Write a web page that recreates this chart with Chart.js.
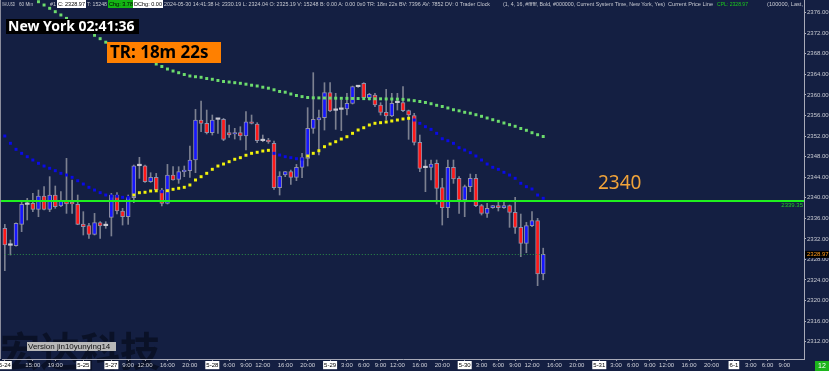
<!DOCTYPE html>
<html>
<head>
<meta charset="utf-8">
<title>XAUUSD 60 Min</title>
<script src="https://cdn.jsdelivr.net/npm/chart.js@4.4.1/dist/chart.umd.min.js"></script>
<style>
    html, body { margin: 0; padding: 0; background: #141f42; }
    #wrap { width: 829px; height: 371px; }
</style>
</head>
<body>
<div id="wrap"><canvas id="grafico" width="829" height="371"></canvas></div>
<script>
// Velas de 60 min (5-24 10:00 -> 5-30 14:00)
const aperturas = [
    2334.05, 2330.80, 2330.67, 2334.82, 2338.70, 2338.91, 2337.74, 2340.33, 2337.74, 2340.53,
    2338.39, 2339.43, 2339.10, 2338.71, 2334.89, 2334.57, 2332.88, 2335.15, 2334.57, 2336.18,
    2340.53, 2337.42, 2336.31, 2340.01, 2346.23, 2346.23, 2343.12, 2343.97, 2341.50, 2338.91,
    2344.42, 2343.58, 2345.07, 2345.26, 2347.34, 2355.12, 2354.47, 2352.66, 2355.25, 2355.25,
    2352.66, 2352.40, 2352.66, 2352.01, 2354.79, 2354.34, 2351.10, 2351.23, 2350.58, 2341.96,
    2344.42, 2345.07, 2343.97, 2345.91, 2347.66, 2353.50, 2355.12, 2355.57, 2360.44, 2357.06,
    2357.19, 2357.26, 2358.36, 2361.60, 2362.25, 2359.46, 2359.98, 2358.04, 2356.61, 2355.90,
    2358.49, 2358.49, 2356.93, 2355.96, 2350.77, 2345.85, 2345.91, 2346.69, 2341.96, 2338.07,
    2345.91, 2343.77, 2339.56, 2342.15, 2343.77, 2338.45, 2336.96, 2338.07, 2338.45, 2338.07,
    2338.45, 2337.16, 2334.24, 2331.13, 2334.57, 2335.54, 2325.19
];
const maximos = [
    2334.82, 2331.78, 2335.10, 2339.23, 2339.88, 2340.85, 2341.50, 2342.15, 2344.10, 2342.28,
    2341.18, 2347.66, 2343.45, 2340.53, 2337.29, 2335.02, 2336.96, 2335.34, 2335.34, 2340.85,
    2340.98, 2337.94, 2340.53, 2346.36, 2347.86, 2346.36, 2344.87, 2344.74, 2341.83, 2346.49,
    2346.04, 2346.04, 2346.17, 2350.06, 2357.19, 2358.82, 2357.06, 2356.09, 2355.30, 2355.44,
    2354.15, 2353.50, 2353.82, 2356.74, 2356.09, 2354.60, 2352.20, 2351.55, 2351.03, 2345.07,
    2345.10, 2345.39, 2346.49, 2348.64, 2357.52, 2364.33, 2357.06, 2362.38, 2362.38, 2360.31,
    2359.01, 2360.31, 2361.73, 2361.73, 2362.38, 2360.31, 2360.31, 2358.49, 2361.08, 2360.31,
    2360.31, 2361.60, 2357.06, 2356.42, 2352.20, 2347.34, 2347.34, 2347.34, 2343.77, 2347.34,
    2347.34, 2344.10, 2342.47, 2344.61, 2344.55, 2338.71, 2338.91, 2338.50, 2339.23, 2339.23,
    2338.58, 2340.08, 2336.83, 2335.21, 2337.29, 2335.99, 2330.19
];
const minimos = [
    2325.81, 2328.86, 2330.60, 2333.40, 2335.67, 2337.29, 2336.31, 2337.61, 2337.29, 2337.94,
    2338.26, 2336.96, 2336.96, 2334.75, 2332.75, 2332.10, 2332.75, 2332.10, 2334.05, 2332.56,
    2336.83, 2334.69, 2334.82, 2339.04, 2343.77, 2342.99, 2342.99, 2341.18, 2338.39, 2338.78,
    2343.40, 2342.80, 2344.10, 2343.97, 2344.87, 2352.85, 2352.40, 2352.20, 2352.53, 2351.10,
    2351.75, 2351.42, 2351.23, 2349.28, 2354.34, 2350.71, 2350.90, 2350.58, 2341.63, 2340.53,
    2344.10, 2342.60, 2343.32, 2343.90, 2346.17, 2352.53, 2348.31, 2353.17, 2356.74, 2353.30,
    2353.04, 2356.09, 2358.23, 2361.47, 2359.33, 2359.01, 2357.71, 2356.09, 2355.12, 2355.77,
    2357.06, 2356.74, 2351.36, 2350.26, 2345.07, 2341.18, 2343.45, 2338.78, 2334.69, 2336.12,
    2342.80, 2336.96, 2336.31, 2341.18, 2338.26, 2336.64, 2336.18, 2337.94, 2337.42, 2337.94,
    2334.24, 2333.07, 2328.53, 2329.31, 2334.37, 2322.89, 2324.04
];
const cierres = [
    2330.80, 2330.75, 2335.02, 2338.71, 2338.80, 2337.74, 2340.33, 2337.74, 2340.53, 2338.26,
    2339.43, 2338.78, 2338.78, 2334.82, 2334.37, 2332.88, 2335.15, 2334.50, 2334.57, 2340.53,
    2337.42, 2336.31, 2340.01, 2346.23, 2346.23, 2343.12, 2343.97, 2341.50, 2338.91, 2344.42,
    2343.45, 2345.07, 2345.39, 2347.34, 2355.12, 2354.47, 2352.66, 2355.12, 2355.25, 2351.36,
    2352.20, 2352.66, 2352.01, 2354.79, 2354.47, 2351.10, 2351.10, 2350.90, 2341.96, 2344.23,
    2345.07, 2343.97, 2345.91, 2347.79, 2353.50, 2355.25, 2355.57, 2360.44, 2356.87, 2357.00,
    2357.32, 2358.36, 2361.60, 2361.60, 2359.46, 2360.11, 2358.04, 2356.61, 2355.90, 2358.36,
    2358.49, 2356.93, 2356.09, 2350.77, 2345.72, 2345.85, 2346.56, 2341.83, 2338.07, 2345.91,
    2343.64, 2339.56, 2342.15, 2343.77, 2338.45, 2336.96, 2337.94, 2338.45, 2338.07, 2338.45,
    2337.16, 2334.24, 2331.13, 2334.57, 2335.54, 2325.19, 2328.97
];

// Media rapida (azul bajando / amarilla subiendo)
const mediaRapida = [
    2352.01, 2350.59, 2349.42, 2348.64, 2347.98, 2347.34, 2346.70, 2346.17, 2345.73, 2345.26,
    2344.75, 2344.42, 2343.97, 2343.31, 2342.67, 2342.03, 2341.50, 2340.98, 2340.53, 2340.34,
    2340.30, 2340.08, 2340.06, 2340.53, 2340.98, 2341.06, 2341.31, 2341.35, 2341.18, 2341.37,
    2341.64, 2341.84, 2342.03, 2342.48, 2343.45, 2344.09, 2344.75, 2345.53, 2346.17, 2346.56,
    2347.01, 2347.48, 2347.79, 2348.26, 2348.64, 2348.84, 2349.09, 2349.22, 2348.64, 2348.31,
    2347.98, 2347.79, 2347.59, 2347.53, 2348.12, 2348.64, 2349.15, 2349.93, 2350.45, 2350.90,
    2351.42, 2351.87, 2352.53, 2353.18, 2353.62, 2354.15, 2354.48, 2354.60, 2354.73, 2354.93,
    2355.12, 2355.32, 2355.45, 2355.12, 2354.48, 2353.82, 2353.31, 2352.53, 2351.48, 2351.09,
    2350.59, 2349.73, 2349.28, 2348.76, 2348.12, 2347.34, 2346.56, 2345.92, 2345.53, 2344.95,
    2344.42, 2343.78, 2342.81, 2342.15, 2341.70, 2340.53, 2339.89
];
// Media lenta (verde)
const mediaLenta = [
    2381.99, 2381.34, 2380.70, 2380.06, 2379.42, 2378.78, 2378.13, 2377.49, 2376.85, 2376.19,
    2375.55, 2374.89, 2374.22, 2373.56, 2372.90, 2372.26, 2371.60, 2370.94, 2370.26, 2369.79,
    2369.32, 2368.86, 2368.39, 2367.92, 2367.45, 2366.99, 2366.50, 2366.01, 2365.53, 2365.04,
    2364.65, 2364.32, 2363.97, 2363.68, 2363.54, 2363.43, 2363.19, 2363.04, 2362.81, 2362.61,
    2362.51, 2362.38, 2362.26, 2362.09, 2361.89, 2361.74, 2361.50, 2361.31, 2361.00, 2360.67,
    2360.53, 2360.18, 2359.89, 2359.67, 2359.50, 2359.44, 2359.42, 2359.40, 2359.38, 2359.36,
    2359.34, 2359.33, 2359.31, 2359.30, 2359.28, 2359.27, 2359.25, 2359.24, 2359.22, 2359.20,
    2359.18, 2359.14, 2359.01, 2358.88, 2358.72, 2358.53, 2358.29, 2357.98, 2357.75, 2357.46,
    2357.12, 2356.91, 2356.62, 2356.44, 2356.15, 2355.84, 2355.51, 2355.18, 2354.87, 2354.54,
    2354.21, 2353.90, 2353.47, 2353.12, 2352.65, 2352.26, 2351.91
];

// Eje X: huecos horarios (incluye espacio futuro) y etiquetas
const NUM_HUECOS = 143;
const ticksXIdx = [0, 5, 9, 14, 19, 22, 25, 29, 33, 37, 40, 43, 46, 50, 54, 58, 61, 64, 67, 70,
    74, 78, 82, 85, 88, 91, 94, 98, 102, 106, 109, 112, 115, 118, 122, 126, 130, 133, 136, 139];
const ticksXTexto = ['5-24', '15:00', '19:00', '5-25', '5-27', '9:00', '12:00', '16:00', '20:00', '5-28',
    '6:00', '9:00', '12:00', '16:00', '20:00', '5-29', '3:00', '6:00', '9:00', '12:00',
    '16:00', '20:00', '5-30', '3:00', '6:00', '9:00', '12:00', '16:00', '20:00', '5-31',
    '3:00', '6:00', '9:00', '12:00', '16:00', '20:00', '6-1', '3:00', '6:00', '9:00'];

// Eje Y
const ticksY = [2312, 2316, 2320, 2324, 2328, 2332, 2336, 2340, 2344, 2348, 2352, 2356, 2360, 2364, 2368, 2372, 2376];
const Y_MIN = 2308.63;
const Y_MAX = 2378.465;
const nivelSoporte = 2339.35;
const precioActual = 2328.97;

const Grafico = {
    colores: {
        fondo: '#141f42',
        alza: '#1616ff',
        baja: '#ff1818',
        doji: '#c8c8d2',
        borde: '#9090aa',
        mecha: '#7c8090',
        azul: '#0a0ae8',
        amarillo: '#f2f20c',
        verde: '#6ddc6d',
        texto: '#c8cad2',
    },

    /**
     * Arma las etiquetas de categoria
     */
    etiquetas: function() {
        const out = [];
        for (let k = 0; k < NUM_HUECOS; k++) {
            const pos = ticksXIdx.indexOf(k);
            out.push(pos >= 0 ? ticksXTexto[pos] : '');
        }
        return out;
    },

    esDoji: function(i) {
        return Math.abs(cierres[i] - aperturas[i]) < 0.15;
    },

    colorCuerpo: function(i) {
        if (this.esDoji(i)) return this.colores.doji;
        return cierres[i] > aperturas[i] ? this.colores.alza : this.colores.baja;
    },

    /**
     * Fondo y marca de agua (debajo de todo)
     */
    pluginFondo: {
        id: 'fondo',
        beforeDraw: function(chart) {
            const ctx = chart.ctx;
            ctx.save();
            ctx.fillStyle = Grafico.colores.fondo;
            ctx.fillRect(0, 0, chart.width, chart.height);
            ctx.font = 'bold 40px "Noto Sans CJK SC"';
            ctx.fillStyle = 'rgba(4, 8, 22, 0.6)';
            ctx.textBaseline = 'top';
            ctx.fillText('宏达科技', 0, 331);
            ctx.restore();
        },
    },

    /**
     * Linea de soporte y linea de precio actual
     */
    pluginLineas: {
        id: 'lineas',
        afterDatasetsDraw: function(chart) {
            const ctx = chart.ctx;
            const area = chart.chartArea;
            const y = chart.scales.y;
            const x = chart.scales.x;
            ctx.save();
            // Precio actual punteado
            const yp = Math.round(y.getPixelForValue(precioActual)) + 0.5;
            ctx.strokeStyle = '#2b8c48';
            ctx.lineWidth = 1;
            ctx.setLineDash([1, 2]);
            ctx.beginPath();
            ctx.moveTo(x.getPixelForValue(0), yp);
            ctx.lineTo(x.getPixelForValue(cierres.length - 1), yp);
            ctx.stroke();
            ctx.setLineDash([]);
            // Soporte 2339.35
            const ys = y.getPixelForValue(nivelSoporte);
            ctx.strokeStyle = '#1ff01f';
            ctx.lineWidth = 2;
            ctx.beginPath();
            ctx.moveTo(0, ys);
            ctx.lineTo(area.right, ys);
            ctx.stroke();
            ctx.restore();
        },
    },

    /**
     * Textos sobrepuestos: cabecera, reloj, etiquetas
     */
    pluginTextos: {
        id: 'textos',
        afterDraw: function(chart) {
            const ctx = chart.ctx;
            const area = chart.chartArea;
            const y = chart.scales.y;
            ctx.save();

            // Borde izquierdo
            ctx.strokeStyle = '#8a8c9c';
            ctx.lineWidth = 1;
            ctx.beginPath();
            ctx.moveTo(0.5, 0);
            ctx.lineTo(0.5, area.bottom);
            ctx.stroke();

            // Cabecera
            const segs = [
                { t: 'XAUUSD', x: 2, w: 13 },
                { t: '60 Min', x: 19, w: 14 },
                { t: '#1', x: 50, w: 6 },
                { t: 'C: 2328.97', x: 58, w: 27, caja: '#ffffff', color: '#000000' },
                { t: 'T: 15248', x: 87, w: 20 },
                { t: 'Chg: 3.78', x: 109, w: 24, caja: '#14b414', color: '#000000' },
                { t: 'DChg: 0.00', x: 134, w: 28, caja: '#ffffff', color: '#000000' },
                { t: '2024-05-30 14:41:38 H: 2330.19 L: 2324.04 O: 2325.19 V: 15248 B: 0.00 A: 0.00 0x0 TR: 18m 22s BV: 7396 AV: 7852 DV: 0 Trader Clock', x: 164, w: 326 },
                { t: '(1, 4, 16, #ffffff, Bold, #000000, Current System Time, New York, Yes)', x: 503, w: 162 },
                { t: 'Current Price Line', x: 668, w: 45 },
                { t: 'CPL: 2328.97', x: 717, w: 31, color: '#1ccc1c' },
                { t: '(100000, Last,', x: 767, w: 36 },
            ];
            ctx.font = '6px "Liberation Sans"';
            ctx.textBaseline = 'middle';
            segs.forEach(s => {
                if (s.caja) {
                    ctx.fillStyle = s.caja;
                    ctx.fillRect(s.x - 1, 0, s.w + 2, 8);
                }
                ctx.fillStyle = s.color || Grafico.colores.texto;
                ctx.fillText(s.t, s.x, 4.5, s.w);
            });

            // Reloj New York
            ctx.fillStyle = '#000000';
            ctx.fillRect(6, 19, 133, 15);
            ctx.fillStyle = '#ffffff';
            ctx.font = 'bold 14px "Noto Sans"';
            ctx.fillText('New York 02:41:36', 8, 27, 130);

            // Tiempo restante
            ctx.fillStyle = '#ff8000';
            ctx.fillRect(107, 42, 114, 21);
            ctx.fillStyle = '#000000';
            ctx.font = 'bold 17px "Noto Sans"';
            ctx.fillText('TR: 18m 22s', 110, 53, 108);

            // Texto 2340
            ctx.fillStyle = '#f0a33a';
            ctx.font = '19px "Noto Sans"';
            ctx.fillText('2340', 598, 184);

            // Etiqueta de soporte
            const ys = y.getPixelForValue(nivelSoporte);
            ctx.fillStyle = '#22c822';
            ctx.font = '6px "Liberation Sans"';
            ctx.textAlign = 'right';
            ctx.fillText('2339.35', area.right - 1, ys + 4);
            ctx.textAlign = 'left';

            // Precio actual en el eje
            const yp = y.getPixelForValue(precioActual);
            ctx.fillStyle = '#000000';
            ctx.fillRect(area.right + 1, yp - 3.5, 24, 7);
            ctx.fillStyle = '#ff9a1a';
            ctx.fillText('2328.97', area.right + 3, yp);

            // Version
            ctx.fillStyle = '#b8b8b8';
            ctx.fillRect(27, 342, 89, 9);
            ctx.fillStyle = '#111111';
            ctx.font = '8px "Liberation Sans"';
            ctx.fillText('Version jin10yunying14', 28, 346.5, 87);

            // Contador
            ctx.fillStyle = '#1cb51c';
            ctx.fillRect(815, 361, 14, 10);
            ctx.fillStyle = '#ffffff';
            ctx.font = '7px "Liberation Sans"';
            ctx.textAlign = 'center';
            ctx.fillText('12', 822, 366);

            ctx.restore();
        },
    },

    /**
     * Crea el grafico
     */
    render: function() {
        const canvas = document.getElementById('grafico');
        const c = this.colores;
        const cuerpos = aperturas.map((o, i) => [o, cierres[i]]);
        const mechas = minimos.map((l, i) => [l, maximos[i]]);

        Chart.defaults.font.family = '"Liberation Sans", Arial, sans-serif';

        new Chart(canvas, {
            type: 'bar',
            data: {
                labels: this.etiquetas(),
                datasets: [
                    {
                        type: 'line',
                        label: 'Media rapida',
                        data: mediaRapida,
                        showLine: false,
                        pointStyle: 'rect',
                        pointRadius: 2.1,
                        pointBorderWidth: 0,
                        pointBackgroundColor: (ctx) => {
                            const i = ctx.dataIndex;
                            if (i > 0 && mediaRapida[i] > mediaRapida[i - 1]) return c.amarillo;
                            return c.azul;
                        },
                        order: 1,
                    },
                    {
                        type: 'line',
                        label: 'Media lenta',
                        data: mediaLenta,
                        showLine: false,
                        pointStyle: 'rect',
                        pointRadius: 2.1,
                        pointBorderWidth: 0,
                        pointBackgroundColor: c.verde,
                        order: 2,
                    },
                    {
                        label: 'Cuerpo',
                        data: cuerpos,
                        backgroundColor: (ctx) => Grafico.colorCuerpo(ctx.dataIndex),
                        borderColor: c.borde,
                        borderWidth: (ctx) => Grafico.esDoji(ctx.dataIndex) ? 0 : 1,
                        borderSkipped: false,
                        barThickness: 4,
                        minBarLength: 1.5,
                        grouped: false,
                        order: 3,
                    },
                    {
                        label: 'Mecha',
                        data: mechas,
                        backgroundColor: c.mecha,
                        barThickness: 1,
                        grouped: false,
                        order: 4,
                    },
                ],
            },
            options: {
                responsive: false,
                devicePixelRatio: 1,
                animation: false,
                events: [],
                layout: {
                    autoPadding: false,
                    padding: { left: 2, right: 0, top: 0, bottom: 0 },
                },
                plugins: {
                    legend: { display: false },
                    tooltip: { enabled: false },
                },
                scales: {
                    x: {
                        offset: true,
                        grid: {
                            drawOnChartArea: false,
                            offset: false,
                            tickLength: 2,
                            color: '#a0a2b0',
                        },
                        border: { display: true, color: '#a8aab8', width: 1 },
                        ticks: {
                            autoSkip: false,
                            maxRotation: 0,
                            minRotation: 0,
                            padding: 1,
                            font: { size: 6 },
                            color: (ctx) => (ctx.tick && ctx.tick.label.indexOf('-') > 0) ? '#000000' : '#d0d2da',
                            showLabelBackdrop: (ctx) => !!(ctx.tick && ctx.tick.label.indexOf('-') > 0),
                            backdropColor: '#ffffff',
                            backdropPadding: { top: 1, bottom: 0, left: 1, right: 1 },
                        },
                        afterBuildTicks: (scale) => {
                            scale.ticks = scale.ticks.filter(t => ticksXIdx.includes(t.value));
                        },
                        afterFit: (scale) => {
                            scale.height = 12;
                            scale.paddingLeft = 0;
                            scale.paddingRight = 0;
                        },
                    },
                    y: {
                        position: 'right',
                        min: Y_MIN,
                        max: Y_MAX,
                        grid: {
                            drawOnChartArea: false,
                            tickLength: 2,
                            color: '#b0b2c0',
                        },
                        border: { display: true, color: '#a8aab8', width: 1 },
                        ticks: {
                            padding: 1,
                            font: { size: 6 },
                            color: '#c8cad2',
                            callback: (v) => Number(v).toFixed(2),
                        },
                        afterBuildTicks: (scale) => {
                            scale.ticks = ticksY.map(v => ({ value: v }));
                        },
                        afterFit: (scale) => {
                            scale.width = 25;
                            scale.paddingTop = 0;
                            scale.paddingBottom = 0;
                        },
                    },
                },
            },
            plugins: [this.pluginFondo, this.pluginLineas, this.pluginTextos],
        });
    },
};

document.addEventListener('DOMContentLoaded', () => {
    Grafico.render();
});
</script>
</body>
</html>
